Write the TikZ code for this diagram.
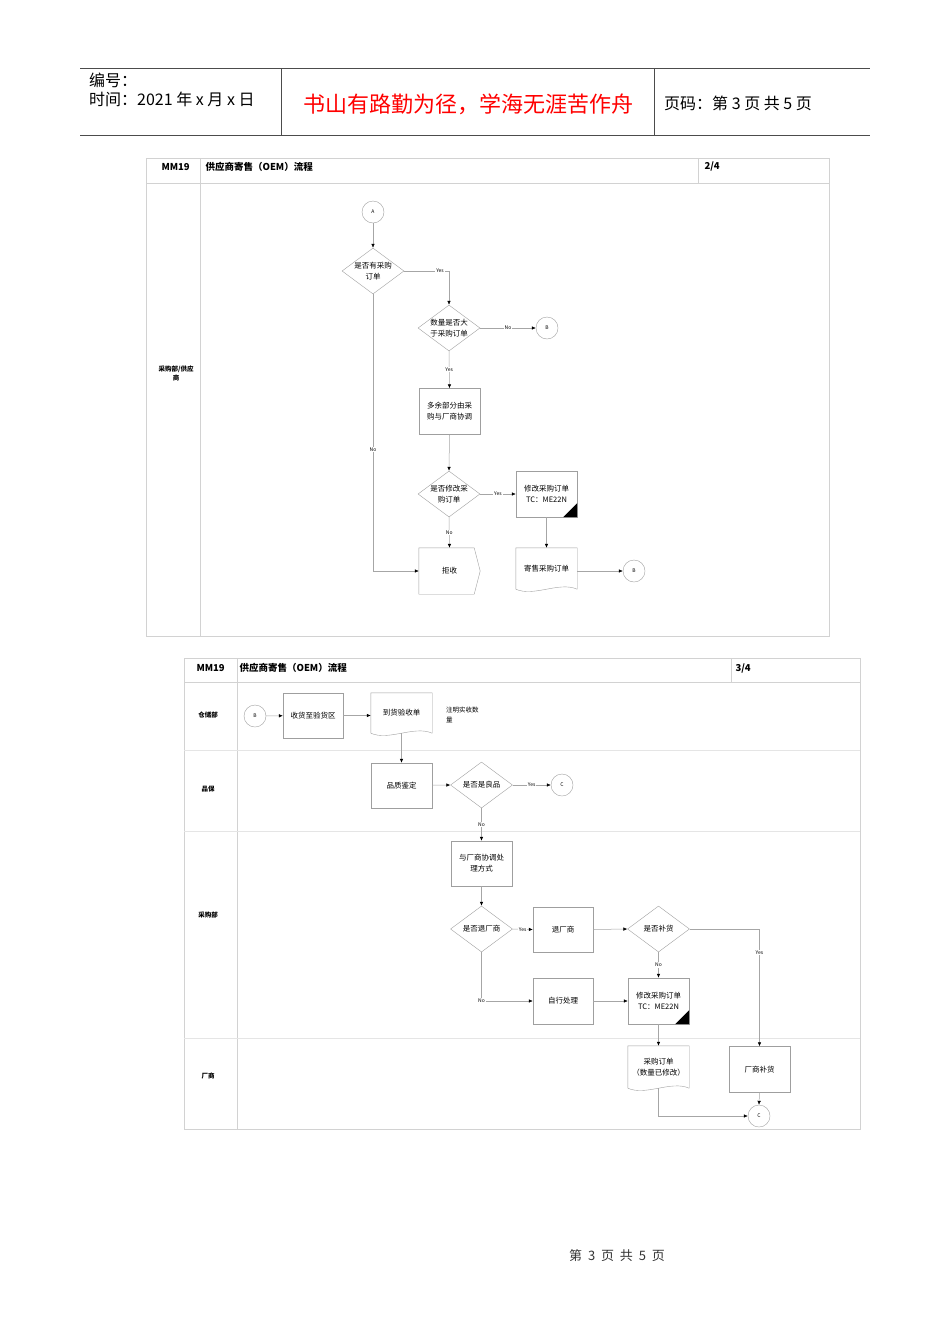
\documentclass[tikz,border=0pt]{standalone}
\usepackage{fontspec}
\setmainfont{Noto Sans CJK SC}
\usepackage{xcolor}
\usetikzlibrary{arrows.meta,shapes.geometric}

\newcommand{\hdrfont}{\fontsize{16}{19}\selectfont}
\newcommand{\diafont}{\fontsize{7.5}{11}\selectfont}
\newcommand{\lblfont}{\fontsize{5}{6}\selectfont}
\newcommand{\docline}[1]{%
  \draw[gray!75] (#1.south west) -- (#1.north west) -- (#1.north east) -- (#1.south east)
    .. controls +(-18,-8) and +(18,8) .. (#1.south west);}
\newcommand{\cornermark}[1]{\fill (#1.south east) -- +(-14,0) -- +(0,-14) -- cycle;}

\begin{document}
\begin{tikzpicture}[x=1pt,y=-1pt,
  hdr/.style={draw=black!70, line width=0.8pt},
  frame/.style={draw=gray!35, line width=0.6pt},
  lanesep/.style={draw=gray!20, line width=0.6pt},
  box/.style={draw=gray!75, minimum width=61pt, minimum height=46pt, inner sep=1pt, align=center, font=\diafont},
  docbox/.style={minimum width=61pt, minimum height=41pt, inner sep=1pt, align=center, font=\diafont},
  decide/.style={diamond, draw=gray!75, minimum width=62pt, minimum height=46pt, inner sep=-5pt, align=center, font=\diafont},
  conn/.style={circle, draw=gray!75, minimum size=22pt, inner sep=0pt, font=\lblfont},
  flow/.style={draw=gray!70, line width=0.5pt, -{Latex[length=4pt,width=3.5pt,color=black]}},
  lbl/.style={fill=white, inner sep=0.8pt, font=\lblfont},
  lane/.style={font=\fontsize{6.5}{9}\selectfont\bfseries, align=center},
  titletext/.style={font=\fontsize{9.5}{11}\selectfont\bfseries, anchor=west},
]
\useasboundingbox (0,0) rectangle (950,1344);

% Page header
\draw[hdr] (80,68) -- (870,68);
\draw[hdr] (80,135) -- (870,135);
\draw[hdr] (281,68) -- (281,135);
\draw[hdr] (654,68) -- (654,135);
\node[anchor=west, font=\hdrfont, inner sep=0pt] (hno) at (89,80) {编号：};
\node[anchor=west, font=\hdrfont, inner sep=0pt] (htime) at (89,99) {时间：2021 年 x 月 x 日};
\node[font=\fontsize{22}{25}\selectfont, text=red] (hmotto) at (468,104) {书山有路勤为径，学海无涯苦作舟};
\node[anchor=west, font=\hdrfont, inner sep=0pt] (hpage) at (664,103) {页码：第 3 页 共 5 页};

% Sheet 2/4
\draw[frame] (146,158) rectangle (829,636);
\draw[frame] (146,183) -- (829,183);
\draw[frame] (200,158) -- (200,636);
\draw[frame] (698,158) -- (698,183);
\node[titletext] (tcode) at (158,167) {MM19};
\node[titletext] (ttitle) at (202,167) {供应商寄售（OEM）流程};
\node[titletext] (tpage) at (701,167) {2/4};
\node[lane] (tlane) at (176,373) {采购部/供应\\商};

\node[conn] (a1) at (373,212) {A};
\node[decide] (d1) at (373,271) {是否有采购\\订单};
\node[decide] (d2) at (449,328) {数量是否大\\于采购订单};
\node[conn] (b1) at (547,328) {B};
\node[box] (p1) at (449.5,411.5) {多余部分由采\\购与厂商协调};
\node[decide] (d3) at (449,494) {是否修改采\\购订单};
\node[box] (m1) at (546.5,494) {修改采购订单\\TC：ME22N};
\node[docbox] (s1) at (546.5,568.5) {寄售采购订单};
\node[conn] (b2) at (634,571) {B};
\node[box, draw=none] (r1) at (449.5,571) {拒收};
\draw[gray!75] (r1.north west) -- ([xshift=-6pt]r1.north east) -- (r1.east)
  -- ([xshift=-6pt]r1.south east) -- (r1.south west) -- cycle;
\docline{s1}
\cornermark{m1}

\draw[flow] (a1) -- (d1.north);
\draw[flow] (d1.east) -| node[lbl, pos=0.4] {Yes} (d2.north);
\draw[flow] (d2.east) -- node[lbl] {No} (b1);
\draw[flow] (d2.south) -- node[lbl] {Yes} (p1.north);
\draw[flow] (p1.south) -- (d3.north);
\draw[flow] (d3.east) -- node[lbl] {Yes} (m1.west);
\draw[flow] (m1.south) -- (s1.north);
\draw[flow] (s1.east |- b2) -- (b2);
\draw[flow] (d3.south) -- node[lbl] {No} (r1.north);
\draw[flow] (d1.south) |- node[lbl, pos=0.28] {No} (r1.west);

% Sheet 3/4
\draw[frame] (184,658) rectangle (860,1129);
\draw[frame] (184,682) -- (860,682);
\draw[frame] (237,658) -- (237,1129);
\draw[frame] (731,658) -- (731,682);
\draw[lanesep] (184,750) -- (860,750);
\draw[lanesep] (184,831) -- (860,831);
\draw[lanesep] (184,1038) -- (860,1038);
\node[titletext] (bcode) at (193,668) {MM19};
\node[titletext] (btitle) at (236,668) {供应商寄售（OEM）流程};
\node[titletext] (bpage) at (732,668) {3/4};
\node[lane] (lstore) at (208,715) {仓储部};
\node[lane] (lqa) at (208,789) {品保};
\node[lane] (lbuy) at (208,915) {采购部};
\node[lane] (lvendor) at (208,1076) {厂商};

\node[conn] (b3) at (255,716) {B};
\node[box, minimum width=60pt, minimum height=45pt] (g1) at (313,715.5) {收货至验货区};
\node[docbox, minimum height=40pt] (g2) at (401.5,713) {到货验收单};
\node[anchor=west, align=left, font=\fontsize{6.5}{10}\selectfont, inner sep=0pt] (gnote) at (446,715) {注明实收数\\量};
\node[box, minimum height=45pt] (q1) at (401.5,785.5) {品质鉴定};
\node[decide] (q2) at (481.5,785) {是否是良品};
\node[conn] (c1) at (562,785) {C};
\node[box, minimum height=45pt] (q3) at (481.5,863.5) {与厂商协调处\\理方式};
\node[decide] (e1) at (481.5,929) {是否退厂商};
\node[box, minimum width=60pt, minimum height=45pt] (e2) at (563,929.5) {退厂商};
\node[decide] (e3) at (658.5,929) {是否补货};
\node[box, minimum width=60pt] (e4) at (563,1001) {自行处理};
\node[box] (e5) at (658.5,1001) {修改采购订单\\TC：ME22N};
\node[docbox, minimum height=42pt] (v1) at (658.5,1067) {采购订单\\（数量已修改）};
\node[box] (v2) at (759.5,1069.5) {厂商补货};
\node[conn] (c2) at (759,1116) {C};
\docline{g2}
\docline{v1}
\cornermark{e5}

\draw[flow] (b3) -- (g1);
\draw[flow] (g1.east) -- (g1.east -| g2.west);
\draw[flow] (g2.south) -- (q1.north);
\draw[flow] (q1) -- (q2.west);
\draw[flow] (q2.east) -- node[lbl] {Yes} (c1);
\draw[flow] (q2.south) -- node[lbl] {No} (q3.north);
\draw[flow] (q3.south) -- (e1.north);
\draw[flow] (e1.east) -- node[lbl] {Yes} (e2.west);
\draw[flow] (e2.east) -- (e3.west);
\draw[flow] (e3.east) -| node[lbl, pos=0.6] {Yes} (v2.north);
\draw[flow] (e3.south) -- node[lbl] {No} (e5.north);
\draw[flow] (e1.south) |- node[lbl, pos=0.5] {No} (e4.west);
\draw[flow] (e4) -- (e5);
\draw[flow] (e5.south) -- (v1.north);
\draw[flow] (v1.south) |- (c2.west);
\draw[flow] (v2.south) -- (c2.north);

% Page footer
\node[font=\fontsize{13}{15}\selectfont, text=black!80] (foot) at (617,1256) {第\hspace{0.45em}3\hspace{0.45em}页\hspace{0.45em}共\hspace{0.45em}5\hspace{0.45em}页};
\end{tikzpicture}
\end{document}
